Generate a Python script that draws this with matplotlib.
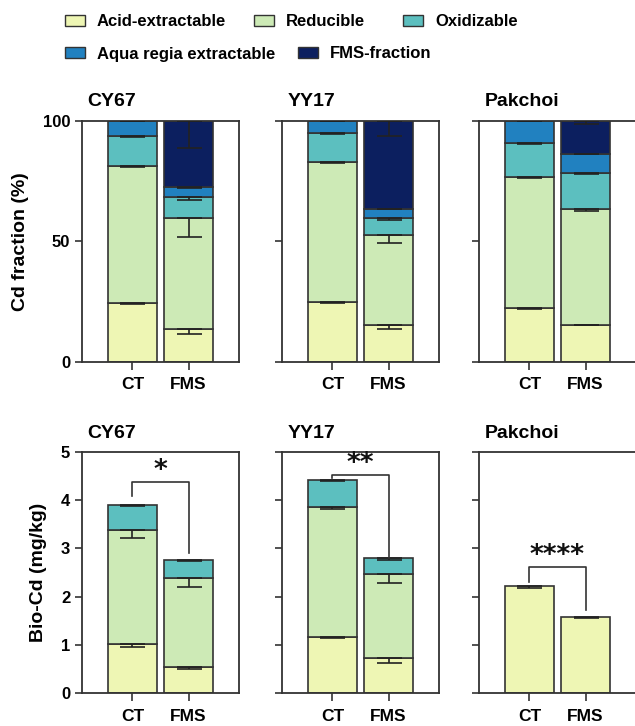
import matplotlib.pyplot as plt
from matplotlib.patches import Patch

plt.rcParams['font.family'] = ['Liberation Sans', 'DejaVu Sans']
plt.rcParams['font.weight'] = 'bold'
plt.rcParams['axes.labelweight'] = 'bold'

# categories
crops = ['CY67', 'YY17', 'Pakchoi']
groups = ['CT', 'FMS']
fractions = ['Acid-extractable', 'Reducible', 'Oxidizable',
             'Aqua regia extractable', 'FMS-fraction']
colors = ['#eef6b4', '#cdeab6', '#5cbfbf', '#2181c0', '#0c1f5f']

# Cd fraction (%) - segment sizes, rows = crops, cols = [CT, FMS]
pct_acid = [[24.5, 13.5], [24.8, 15.3], [22.2, 15.5]]
pct_red = [[56.9, 46.1], [58.1, 37.5], [54.3, 47.8]]
pct_oxi = [[12.1, 8.7], [11.9, 7.0], [14.2, 14.9]]
pct_aqua = [[6.5, 4.1], [5.2, 3.8], [9.3, 8.2]]
pct_fms = [[0.0, 27.6], [0.0, 36.4], [0.0, 13.6]]

# error bars (drawn downward from the top of each segment)
pct_err_acid = [[0.3, 1.9], [0.3, 1.8], [0.3, 0.3]]
pct_err_red = [[0.4, 7.8], [0.4, 3.6], [0.3, 0.8]]
pct_err_oxi = [[0.3, 1.0], [0.3, 0.9], [0.2, 0.3]]
pct_err_aqua = [[0.2, 0.3], [0.2, 0.3], [0.3, 0.3]]
pct_err_fms = [[0.0, 11.4], [0.0, 6.5], [0.0, 1.4]]

# Bio-Cd (mg/kg)
bio_acid = [[1.01, 0.55], [1.17, 0.74], [2.23, 1.57]]
bio_red = [[2.36, 1.84], [2.69, 1.73], [0.0, 0.0]]
bio_oxi = [[0.53, 0.37], [0.56, 0.33], [0.0, 0.0]]

bio_err_acid = [[0.05, 0.05], [0.03, 0.11], [0.05, 0.02]]
bio_err_red = [[0.15, 0.20], [0.05, 0.19], [0.0, 0.0]]
bio_err_oxi = [[0.03, 0.02], [0.02, 0.05], [0.0, 0.0]]

# significance
sig_labels = ['*', '**', '****']
bracket_y = [4.38, 4.51, 2.61]
gap_ct = [0.18, 0.04, 0.07]
gap_fms = [0.14, 0.0, 0.15]

pct_data = [pct_acid, pct_red, pct_oxi, pct_aqua, pct_fms]
pct_errs = [pct_err_acid, pct_err_red, pct_err_oxi, pct_err_aqua, pct_err_fms]
bio_data = [bio_acid, bio_red, bio_oxi]
bio_errs = [bio_err_acid, bio_err_red, bio_err_oxi]

edge = '#333333'
W, H = 635, 726
fig = plt.figure(figsize=(W / 100, H / 100), dpi=100)

lefts = [82, 282, 479]
x = [0, 1]


def stacked(ax, data, errs, i):
    bottom = [0.0, 0.0]
    for k, (seg, err) in enumerate(zip(data, errs)):
        vals = seg[i]
        if max(vals) == 0:
            continue
        ax.bar(x, vals, width=0.89, bottom=bottom, color=colors[k],
               edgecolor=edge, linewidth=1.2, zorder=2)
        tops = [b + v for b, v in zip(bottom, vals)]
        for j in range(2):
            if vals[j] > 0:
                ax.errorbar(x[j], tops[j], yerr=[[err[i][j]], [0]],
                            color='#222222', capsize=9, elinewidth=1.2,
                            capthick=1.2, zorder=3)
        bottom = tops
    return bottom


def style(ax, first, ylabel):
    for s in ax.spines.values():
        s.set_color(edge)
        s.set_linewidth(1.3)
    ax.set_xlim(-0.9, 1.9)
    ax.set_xticks(x)
    ax.set_xticklabels(groups, fontsize=12.5, fontweight='bold')
    ax.tick_params(axis='x', length=6, width=1.2, color=edge, pad=5)
    ax.tick_params(axis='y', length=5, width=1.2, color=edge, labelsize=12)
    if first:
        ax.set_ylabel(ylabel, fontsize=14, fontweight='bold', labelpad=10)
    else:
        ax.tick_params(axis='y', labelleft=False)


for i, crop in enumerate(crops):
    ax = fig.add_axes([lefts[i] / W, 1 - 362 / H, 157 / W, 241.3 / H])
    stacked(ax, pct_data, pct_errs, i)
    ax.set_ylim(0, 100)
    ax.set_yticks([0, 50, 100])
    style(ax, i == 0, 'Cd fraction (%)')
    ax.text(0.035, 1.06, crop, transform=ax.transAxes, fontsize=14,
            fontweight='bold', va='baseline')

    ax2 = fig.add_axes([lefts[i] / W, 1 - 693.3 / H, 157 / W, 241.6 / H])
    totals = stacked(ax2, bio_data, bio_errs, i)
    ax2.set_ylim(0, 5)
    ax2.set_yticks(range(6))
    style(ax2, i == 0, 'Bio-Cd (mg/kg)')
    ax2.text(0.035, 1.055, crop, transform=ax2.transAxes, fontsize=14,
             fontweight='bold', va='baseline')

    yb = bracket_y[i]
    ax2.plot([0, 0, 1, 1], [totals[0] + gap_ct[i], yb, yb, totals[1] + gap_fms[i]],
             color=edge, linewidth=1.2, zorder=4)
    ax2.text(0.5, yb - 0.04, sig_labels[i], ha='center', va='bottom',
             fontsize=19, fontweight='bold', color='#111111',
             family='DejaVu Sans')

# legend, one entry per position
legend_pos = [(65, 22), (254, 22), (403, 22), (65, 54), (298, 54)]
for k, name in enumerate(fractions):
    px, py = legend_pos[k]
    h = Patch(facecolor=colors[k], edgecolor=edge, linewidth=1.0)
    fig.legend([h], [name], loc='center left',
               bbox_to_anchor=(px / W, 1 - py / H), frameon=False,
               borderpad=0, borderaxespad=0, handlelength=1.2,
               handleheight=0.65, handletextpad=0.72,
               prop={'size': 12, 'weight': 'bold'})

fig.savefig('out.png', dpi=100)
